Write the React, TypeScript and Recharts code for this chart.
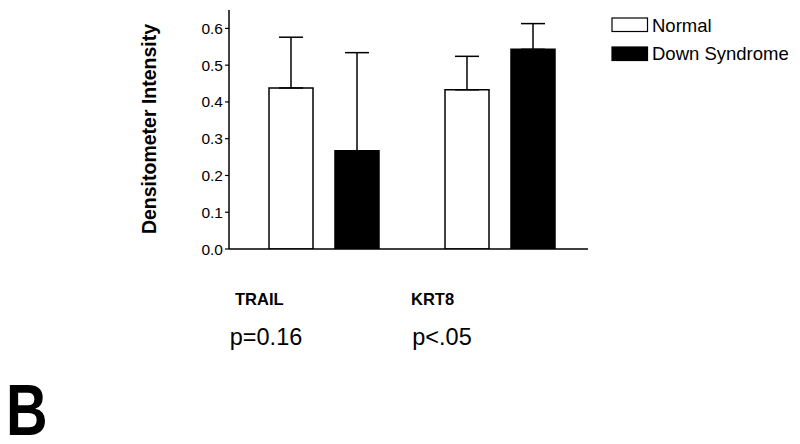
import React from 'react';
import { BarChart, Bar, XAxis, YAxis, ErrorBar, Legend } from 'recharts';

const categories = ['TRAIL', 'KRT8'];
const pValues = ['p=0.16', 'p<.05'];
const normalValues = [0.438, 0.433];
const normalErrors = [0.138, 0.091];
const downValues = [0.267, 0.543];
const downErrors = [0.267, 0.07];
const yTicks = [0, 0.1, 0.2, 0.3, 0.4, 0.5, 0.6];
const seriesOrder = ['normal', 'down'];

const data = categories.map((c, i) => ({
  name: c,
  p: pValues[i],
  normal: normalValues[i],
  normalErr: [0, normalErrors[i]],
  down: downValues[i],
  downErr: [0, downErrors[i]],
}));

const FONT = '"Liberation Sans", Arial, Helvetica, sans-serif';

const XTick = (props: any) => {
  const { x, y, payload, index } = props;
  return (
    <g>
      <text x={x - 89} y={y + 56} textAnchor="start" fontFamily={FONT} fontWeight="bold" fontSize={16.5} fill="#000">
        {payload.value}
      </text>
      <text x={x - 58} y={y + 96} textAnchor="middle" fontFamily={FONT} fontSize={23.5} fill="#000">
        {pValues[index]}
      </text>
    </g>
  );
};

const LegendContent = (props: any) => {
  const items = [...(props.payload || [])].sort(
    (a: any, b: any) => seriesOrder.indexOf(a.dataKey) - seriesOrder.indexOf(b.dataKey)
  );
  return (
    <svg width={190} height={55} style={{ display: 'block', overflow: 'visible' }}>
      {items.map((it: any, i: number) => (
        <g key={i}>
          <rect x={1} y={1 + i * 29} width={35.5} height={13.5} fill={it.dataKey === 'normal' ? '#fff' : '#000'} stroke="#000" strokeWidth={1.2} />
          <text x={41} y={15 + i * 28} fontFamily={FONT} fontSize={18.5} fill="#000">
            {it.value}
          </text>
        </g>
      ))}
    </svg>
  );
};

export default function App() {
  return (
    <div style={{ position: 'absolute', left: 0, top: 0, width: 800, height: 444, background: '#fff' }}>
      <BarChart
        width={800}
        height={444}
        data={data}
        margin={{ top: 10, right: 212, bottom: 0, left: 0 }}
        barSize={44}
        barGap={22}
      >
        <XAxis
          dataKey="name"
          padding={{ left: 7, right: 0 }}
          axisLine={{ stroke: '#000', strokeWidth: 1.5 }}
          tickLine={false}
          tickSize={0}
          tickMargin={0}
          tick={<XTick />}
          height={195}
          interval={0}
        />
        <YAxis
          width={229}
          domain={[0, 0.65]}
          ticks={yTicks}
          allowDataOverflow
          tickFormatter={(v: number) => v.toFixed(1)}
          axisLine={{ stroke: '#000', strokeWidth: 1.5 }}
          tickLine={{ stroke: '#000', strokeWidth: 1.2 }}
          tickSize={4}
          tickMargin={2}
          tick={{ fill: '#000', fontSize: 15.5, fontFamily: FONT }}
        />
        <Legend
          layout="horizontal"
          verticalAlign="middle"
          align="center"
          wrapperStyle={{ left: 611, top: 17, width: 190, height: 55 }}
          content={<LegendContent />}
        />
        <Bar dataKey="normal" name="Normal" fill="#fff" stroke="#000" strokeWidth={1.5} isAnimationActive={false}>
          <ErrorBar dataKey="normalErr" width={12} stroke="#000" strokeWidth={1.5} direction="y" isAnimationActive={false} />
        </Bar>
        <Bar dataKey="down" name="Down Syndrome" fill="#000" stroke="#000" strokeWidth={1.5} isAnimationActive={false}>
          <ErrorBar dataKey="downErr" width={12} stroke="#000" strokeWidth={1.5} direction="y" isAnimationActive={false} />
        </Bar>
      </BarChart>
      <svg width={800} height={444} style={{ position: 'absolute', left: 0, top: 0, pointerEvents: 'none' }}>
        <text
          x={156}
          y={129}
          transform="rotate(-90, 156, 129)"
          textAnchor="middle"
          fontFamily={FONT}
          fontWeight="bold"
          fontSize={19.5}
          fill="#000"
        >
          Densitometer Intensity
        </text>
        <g transform="translate(6, 435) scale(0.8, 1)">
          <text x={0} y={0} fontFamily={FONT} fontWeight="bold" fontSize={72} fill="#000">
            B
          </text>
        </g>
      </svg>
    </div>
  );
}
